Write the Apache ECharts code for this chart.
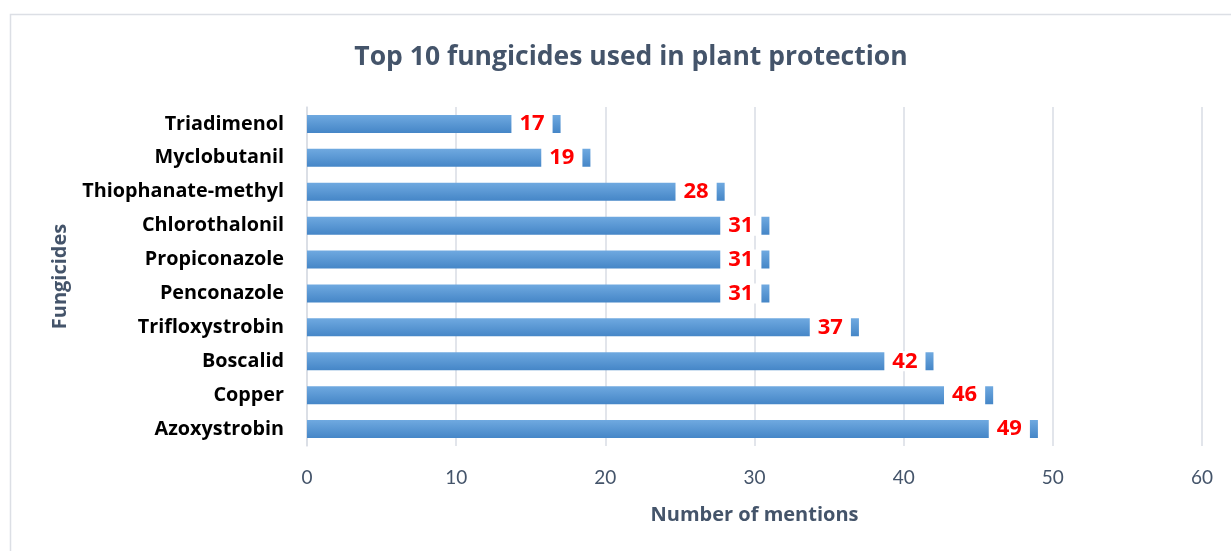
<!DOCTYPE html>
<html>
<head>
<meta charset="utf-8">
<script src="https://cdn.jsdelivr.net/npm/echarts@6/dist/echarts.min.js"></script>
<style>
  html, body { margin: 0; padding: 0; background: #ffffff; }
  #chart { width: 1231px; height: 551px; }
</style>
</head>
<body>
<div id="chart"></div>
<script>
// Fungicides, listed top to bottom
const categories = [
  'Triadimenol', 'Myclobutanil', 'Thiophanate-methyl', 'Chlorothalonil',
  'Propiconazole', 'Penconazole', 'Trifloxystrobin', 'Boscalid',
  'Copper', 'Azoxystrobin'
];
// Number of mentions per fungicide
const mentions = [17, 19, 28, 31, 31, 31, 37, 42, 46, 49];
// Value axis ticks
const xTicks = [0, 10, 20, 30, 40, 50, 60];

const slate = '#44546a';
const boldFont = '"Open Sans", Lato, sans-serif';
const tickFont = 'Lato, "Open Sans", sans-serif';

const chart = echarts.init(document.getElementById('chart'), null, { renderer: 'canvas' });
chart.setOption({
  animation: false,
  backgroundColor: '#ffffff',
  graphic: [{
    type: 'rect',
    shape: { x: 10.5, y: 14.5, width: 1240, height: 560 },
    style: { fill: 'none', stroke: '#dcdfe5', lineWidth: 1.5 },
    silent: true
  }],
  title: {
    text: 'Top 10 fungicides used in plant protection',
    left: 626, top: 39, textAlign: 'center',
    textStyle: { fontFamily: boldFont, fontWeight: 'bold', fontSize: 26.5, color: slate }
  },
  grid: { left: 307, right: 29, top: 107, bottom: 105, containLabel: false },
  xAxis: {
    type: 'value',
    min: xTicks[0], max: xTicks[xTicks.length - 1], interval: 10,
    name: 'Number of mentions',
    nameLocation: 'middle', nameGap: 59,
    nameTextStyle: { fontFamily: boldFont, fontWeight: 'bold', fontSize: 20, color: slate },
    axisLine: { show: false },
    axisTick: { show: false },
    axisLabel: { fontFamily: tickFont, fontSize: 19, color: slate, margin: 22 },
    splitLine: { show: true, lineStyle: { color: '#d9dde5', width: 1.5 } }
  },
  yAxis: {
    type: 'category',
    data: categories,
    inverse: true,
    name: 'Fungicides',
    nameLocation: 'middle', nameGap: 237, nameRotate: 90,
    nameTextStyle: { fontFamily: boldFont, fontWeight: 'bold', fontSize: 20, color: slate },
    axisLine: { show: true, lineStyle: { color: '#d9dde5', width: 1.5 } },
    axisTick: { show: false },
    axisLabel: { fontFamily: boldFont, fontWeight: 'bold', fontSize: 19.8, color: '#000000', margin: 23 }
  },
  series: [{
    type: 'bar',
    data: mentions,
    barWidth: 18,
    itemStyle: {
      color: new echarts.graphic.LinearGradient(0, 0, 0, 1, [
        { offset: 0, color: '#6fa9e0' },
        { offset: 1, color: '#4586c7' }
      ])
    },
    label: {
      show: true,
      position: 'insideRight',
      distance: 8,
      fontFamily: boldFont,
      fontWeight: 'bold',
      fontSize: 22,
      color: '#ff0000',
      backgroundColor: '#ffffff',
      padding: [0, 8, 0, 8],
      lineHeight: 20
    }
  }]
});
</script>
</body>
</html>
